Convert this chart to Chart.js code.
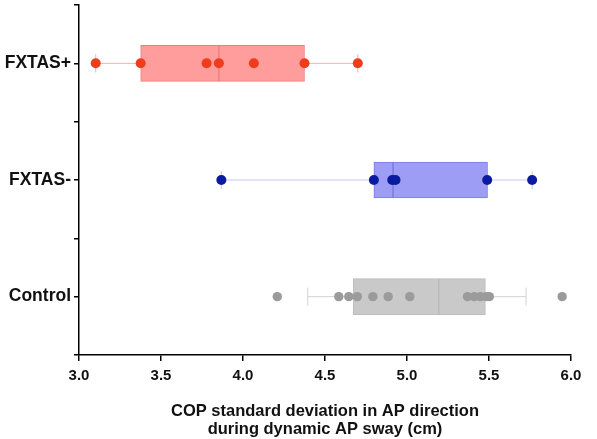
<!DOCTYPE html>
<html lang="en">
<head>
<meta charset="UTF-8">
<script src="https://cdn.jsdelivr.net/npm/chart.js"></script>
<title>COP sway</title>
<style>
  html, body { margin: 0; padding: 0; background: #fff; }
  #wrap { width: 597px; height: 439px; }
</style>
</head>
<body>
<div id="wrap"><canvas id="boxChart"></canvas></div>
<script>
// groups from bottom to top (y value = index)
var groups = ['Control', 'FXTAS-', 'FXTAS+'];
var xTicks = [3.0, 3.5, 4.0, 4.5, 5.0, 5.5, 6.0];

// box statistics
var whiskerLo = [4.395, 3.868, 3.102];
var q1        = [4.672, 4.798, 3.376];
var median    = [5.194, 4.915, 3.853];
var q3        = [5.478, 5.491, 4.375];
var whiskerHi = [5.726, 5.763, 4.700];

// individual subjects
var controlPts = [4.209, 4.584, 4.645, 4.697, 4.792, 4.885, 5.017, 5.369, 5.410, 5.447, 5.482, 5.502, 5.946];
var minusPts   = [3.868, 4.798, 4.910, 4.930, 5.489, 5.763];
var plusPts    = [3.102, 3.376, 3.778, 3.853, 4.066, 4.375, 4.700];
var allPts = [controlPts, minusPts, plusPts];

var pointColor  = ['#9b9b9b', '#0b1b9f', '#ef3c1d'];
var pointRadius = [4.7, 5, 5];
var boxFill     = ['#c9c9c9', '#9d9df6', '#ff9c9c'];
var boxLine     = ['#bdbdbd', '#7c7ce6', '#f27c7c'];
var medLine     = ['#b3b3b3', '#6c6cd6', '#e77272'];
var whiskColor  = ['#d3d3d3', '#c6c6f3', '#f6b0b0'];

var capH = 0.078;
var datasets = [];

for (var i = 0; i < groups.length; i++) {
  datasets.push({
    type: 'scatter',
    label: groups[i] + ' points',
    data: allPts[i].map(function (v) { return { x: v, y: i }; }),
    backgroundColor: pointColor[i],
    borderColor: pointColor[i],
    borderWidth: 0,
    pointRadius: pointRadius[i],
    order: 0
  });
  datasets.push({
    type: 'line',
    label: groups[i] + ' median',
    data: [{ x: median[i], y: i - 0.153 }, { x: median[i], y: i + 0.153 }],
    borderColor: medLine[i],
    borderWidth: 1,
    pointRadius: 0,
    fill: false,
    order: 1
  });
  datasets.push({
    type: 'line',
    label: groups[i] + ' whiskers',
    data: [
      { x: whiskerLo[i], y: i - capH }, { x: whiskerLo[i], y: i + capH }, { x: whiskerLo[i], y: null },
      { x: whiskerLo[i], y: i }, { x: whiskerHi[i], y: i }, { x: whiskerHi[i], y: null },
      { x: whiskerHi[i], y: i - capH }, { x: whiskerHi[i], y: i + capH }
    ],
    borderColor: whiskColor[i],
    borderWidth: 1,
    pointRadius: 0,
    spanGaps: false,
    fill: false,
    order: 3
  });
}

datasets.push({
  type: 'bar',
  label: 'boxes',
  indexAxis: 'y',
  data: groups.map(function (g, k) { return { x: [q1[k], q3[k]], y: k }; }),
  backgroundColor: boxFill,
  borderColor: boxLine,
  borderWidth: 1,
  borderSkipped: false,
  barThickness: 36,
  order: 2
});

new Chart(document.getElementById('boxChart'), {
  type: 'scatter',
  data: { datasets: datasets },
  options: {
    responsive: true,
    maintainAspectRatio: false,
    animation: false,
    layout: { padding: { top: 3, right: 26, left: 0, bottom: 0 } },
    plugins: { legend: { display: false }, tooltip: { enabled: false } },
    scales: {
      x: {
        type: 'linear',
        min: 3, max: 6,
        offset: false,
        afterBuildTicks: function (s) { s.ticks = xTicks.map(function (v) { return { value: v }; }); },
        afterFit: function (s) { s.height = 84; },
        border: { color: '#000', width: 1.5 },
        grid: { offset: false, drawOnChartArea: false, drawTicks: true, tickLength: 6, color: '#000', lineWidth: 1.5 },
        ticks: {
          color: '#111',
          padding: 6,
          font: { family: 'Liberation Sans, Arial', size: 15, weight: 'bold' },
          callback: function (v) { return Number(v).toFixed(1); }
        },
        title: {
          display: true,
          text: ['COP standard deviation in AP direction', 'during dynamic AP sway (cm)'],
          color: '#111',
          padding: { top: 0, bottom: 0 },
          font: { family: 'Liberation Sans, Arial', size: 16.5, weight: 'bold', lineHeight: 1.1 }
        }
      },
      y: {
        type: 'linear',
        min: -0.5, max: 2.5,
        offset: false,
        afterBuildTicks: function (s) {
          s.ticks = [-0.5, 0, 0.5, 1, 1.5, 2, 2.5].map(function (v) { return { value: v }; });
        },
        afterFit: function (s) { s.width = 79; },
        border: { color: '#000', width: 1.5 },
        grid: { offset: false, drawOnChartArea: false, drawTicks: true, tickLength: 5, color: '#000', lineWidth: 1.5 },
        ticks: {
          color: '#111',
          padding: 3,
          font: function (ctx) {
            var big = ctx.tick && Number.isInteger(ctx.tick.value);
            return { family: 'Liberation Sans, Arial', size: big ? 17.5 : 1, weight: 'bold', lineHeight: 1 };
          },
          callback: function (v) { return Number.isInteger(v) ? groups[v] : ''; }
        }
      }
    }
  }
});
</script>
</body>
</html>
